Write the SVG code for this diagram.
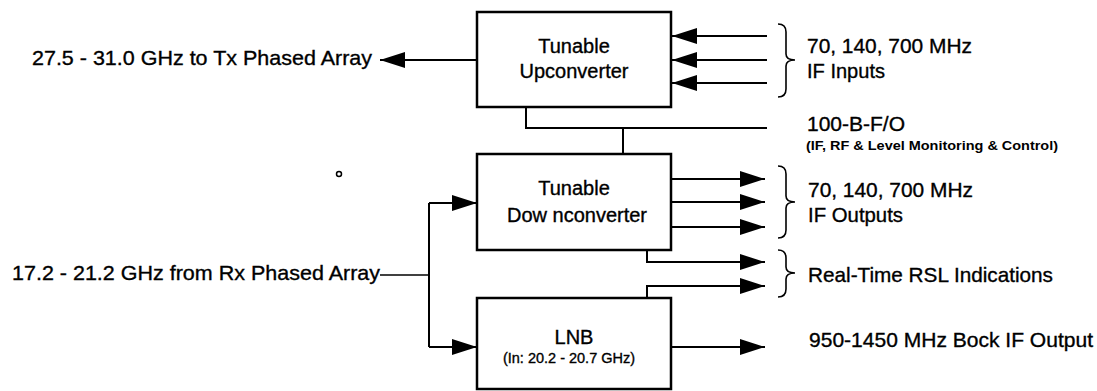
<svg xmlns="http://www.w3.org/2000/svg" width="1097" height="391" viewBox="0 0 1097 391">
  <defs>
    <marker id="arr" markerUnits="userSpaceOnUse" markerWidth="25" markerHeight="16" refX="25" refY="8" orient="auto">
      <path d="M0,0 L25,8 L0,16 z" fill="#000"/>
    </marker>
    <style>
      .box { fill: #fff; stroke: #000; stroke-width: 2.5; }
      .ln { fill: none; stroke: #000; stroke-width: 2; }
      .thin { fill: none; stroke: #000; stroke-width: 1.5; }
      .brace { fill: none; stroke: #000; stroke-width: 1.6; }
      text { font-family: "Liberation Sans", Arial, sans-serif; fill: #000; stroke: #000; stroke-width: 0.35; }
      .lbl { font-size: 21px; }
      .bx { font-size: 20px; text-anchor: middle; }
      .sm { font-size: 13px; font-weight: bold; stroke-width: 0; }
    </style>
  </defs>
  <rect width="1097" height="391" fill="#fff"/>

  <g id="connectors">
    <line class="ln" x1="477" y1="60" x2="380" y2="60" marker-end="url(#arr)"/>
    <line class="ln" x1="767" y1="36" x2="672" y2="36" marker-end="url(#arr)"/>
    <line class="ln" x1="767" y1="60" x2="672" y2="60" marker-end="url(#arr)"/>
    <line class="ln" x1="767" y1="83" x2="672" y2="83" marker-end="url(#arr)"/>
    <path class="ln" d="M526,107 V128 H767 M623,128 V154"/>
    <path class="thin" d="M380,275 H429"/>
    <path class="ln" d="M429,203 V347"/>
    <line class="ln" x1="429" y1="203" x2="477" y2="203" marker-end="url(#arr)"/>
    <line class="ln" x1="429" y1="347" x2="477" y2="347" marker-end="url(#arr)"/>
    <line class="ln" x1="671" y1="179" x2="765" y2="179" marker-end="url(#arr)"/>
    <line class="ln" x1="671" y1="202" x2="765" y2="202" marker-end="url(#arr)"/>
    <line class="ln" x1="671" y1="227" x2="765" y2="227" marker-end="url(#arr)"/>
    <path class="ln" d="M647,250 V262 H765" marker-end="url(#arr)"/>
    <path class="ln" d="M647,298 V286 H765" marker-end="url(#arr)"/>
    <line class="ln" x1="671" y1="347" x2="765" y2="347" marker-end="url(#arr)"/>
  </g>

  <g id="upconverter">
    <rect class="box" x="477" y="12" width="194" height="95"/>
    <text class="bx" x="574" y="53">Tunable</text>
    <text class="bx" x="574" y="78">Upconverter</text>
  </g>

  <g id="downconverter">
    <rect class="box" x="477" y="154" width="194" height="96"/>
    <text class="bx" x="574" y="195">Tunable</text>
    <text class="bx" x="577" y="222">Dow nconverter</text>
  </g>

  <g id="lnb">
    <rect class="box" x="477" y="298" width="194" height="91"/>
    <text class="bx" x="574" y="344">LNB</text>
    <text x="569" y="363" font-size="14.5" text-anchor="middle" stroke-width="0.2">(In: 20.2 - 20.7 GHz)</text>
  </g>

  <g id="tx-label">
    <text class="lbl" x="32" y="65" textLength="340" lengthAdjust="spacingAndGlyphs">27.5 - 31.0 GHz to Tx Phased Array</text>
  </g>

  <g id="rx-label">
    <text class="lbl" x="12" y="280" textLength="368" lengthAdjust="spacingAndGlyphs">17.2 - 21.2 GHz from Rx Phased Array</text>
  </g>

  <g id="if-inputs">
    <path class="brace" d="M778,24 Q786,24 786,32 V54 Q786,60 795,60 Q786,60 786,66 V89 Q786,97 778,97"/>
    <text class="lbl" x="807" y="53" textLength="165" lengthAdjust="spacingAndGlyphs">70, 140, 700 MHz</text>
    <text class="lbl" x="807" y="78" textLength="78" lengthAdjust="spacingAndGlyphs">IF Inputs</text>
  </g>

  <g id="bus-label">
    <text class="lbl" x="807" y="131" font-size="20" textLength="98" lengthAdjust="spacingAndGlyphs">100-B-F/O</text>
    <text class="sm" x="806" y="150" textLength="252" lengthAdjust="spacingAndGlyphs">(IF, RF &amp; Level Monitoring &amp; Control)</text>
  </g>

  <g id="if-outputs">
    <path class="brace" d="M778,166 Q786,166 786,174 V196 Q786,202 795,202 Q786,202 786,208 V230 Q786,238 778,238"/>
    <text class="lbl" x="808" y="197" textLength="165" lengthAdjust="spacingAndGlyphs">70, 140, 700 MHz</text>
    <text class="lbl" x="808" y="222" textLength="95" lengthAdjust="spacingAndGlyphs">IF Outputs</text>
  </g>

  <g id="rsl">
    <path class="brace" d="M778,250 Q786,250 786,258 V267 Q786,273 795,273 Q786,273 786,279 V289 Q786,297 778,297"/>
    <text class="lbl" x="808" y="282" textLength="245" lengthAdjust="spacingAndGlyphs">Real-Time RSL Indications</text>
  </g>

  <g id="block-if">
    <text class="lbl" x="809" y="347" textLength="284" lengthAdjust="spacingAndGlyphs">950-1450 MHz Bock IF Output</text>
  </g>

  <circle cx="339" cy="174" r="2.5" fill="none" stroke="#000" stroke-width="1.5"/>
</svg>
